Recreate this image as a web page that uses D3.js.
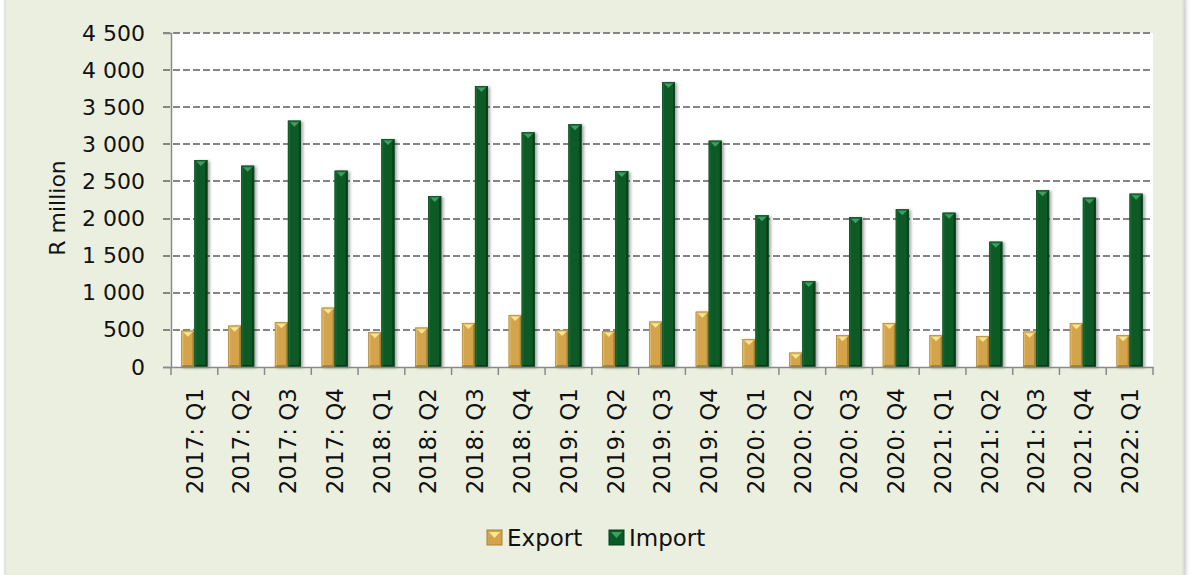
<!DOCTYPE html>
<html>
<head>
<meta charset="utf-8">
<script src="https://cdn.jsdelivr.net/npm/d3@7"></script>
<style>
  body { margin: 0; background: #ffffff; }
  svg { display: block; font-family: "DejaVu Sans", sans-serif; }
</style>
</head>
<body>
<div id="chart"></div>
<script>
// quarters on the x axis
let categories = ["2017: Q1", "2017: Q2", "2017: Q3", "2017: Q4",
    "2018: Q1", "2018: Q2", "2018: Q3", "2018: Q4",
    "2019: Q1", "2019: Q2", "2019: Q3", "2019: Q4",
    "2020: Q1", "2020: Q2", "2020: Q3", "2020: Q4",
    "2021: Q1", "2021: Q2", "2021: Q3", "2021: Q4",
    "2022: Q1"];

let seriesNames = ["Export", "Import"];

// R million
let exportVals = [489, 557, 602, 799, 467, 530, 593, 701, 499, 485, 611, 745, 377, 193, 427, 593, 427, 418, 476, 588, 427];
let importVals = [2789, 2712, 3319, 2645, 3072, 2304, 3786, 3162, 3270, 2641, 3840, 3049, 2044, 1159, 2017, 2125, 2079, 1688, 2380, 2281, 2335];

let yTicks = [0, 500, 1000, 1500, 2000, 2500, 3000, 3500, 4000, 4500];

let W = 1197, H = 575;
let plot = { left: 171, right: 1153, top: 33, bottom: 367 };

// colours: main, top highlight, left face, right/bottom face
let palette = {
    Export: { main: "#d3a44c", hi: "#f8e690", light: "#dfb862", dark: "#a98133", line: "#9a7a3a" },
    Import: { main: "#0a5a26", hi: "#3f9d63", light: "#13692f", dark: "#053e18", line: "#1f4d2c" }
};

let svg = d3.select("#chart").append("svg")
    .attr("width", W)
    .attr("height", H);

let defs = svg.append("defs");
let f = defs.append("filter").attr("id", "shadow")
    .attr("x", "-30%").attr("y", "-10%").attr("width", "180%").attr("height", "130%");
f.append("feDropShadow")
    .attr("dx", 2).attr("dy", 1).attr("stdDeviation", 1.5)
    .attr("flood-color", "#000").attr("flood-opacity", 0.35);

let cardShadow = defs.append("filter").attr("id", "cardShadow")
    .attr("x", "-5%").attr("y", "-5%").attr("width", "110%").attr("height", "110%");
cardShadow.append("feDropShadow")
    .attr("dx", 2).attr("dy", 0).attr("stdDeviation", 2)
    .attr("flood-color", "#000").attr("flood-opacity", 0.25);

// chart card
svg.append("rect")
    .attr("x", 5).attr("y", -2)
    .attr("width", 1178).attr("height", H + 4)
    .attr("fill", "#ebefdf")
    .attr("stroke", "#d9dccd")
    .attr("filter", "url(#cardShadow)");

// plot area
svg.append("rect")
    .attr("x", plot.left).attr("y", plot.top)
    .attr("width", plot.right - plot.left)
    .attr("height", plot.bottom - plot.top)
    .attr("fill", "#ffffff");

let x0 = d3.scaleBand().domain(categories).range([plot.left, plot.right]).padding(0);
let x1 = d3.scaleBand().domain(seriesNames).range([0, 26]).padding(0);
let y = d3.scaleLinear().domain([0, 4500]).range([plot.bottom, plot.top]);

// gridlines
svg.append("g").selectAll("line")
    .data(yTicks.filter(d => d > 0))
    .enter().append("line")
    .attr("x1", plot.left - 8)
    .attr("x2", plot.right)
    .attr("y1", d => Math.round(y(d)))
    .attr("y2", d => Math.round(y(d)))
    .attr("stroke", "#858585")
    .attr("stroke-width", 2)
    .attr("stroke-dasharray", "7,3");

// y axis
let yAxis = svg.append("g")
    .attr("transform", "translate(" + plot.left + ",0)")
    .call(d3.axisLeft(y).tickValues(yTicks).tickSize(8).tickPadding(18)
        .tickFormat(d => d3.format(",")(d).replace(/,/g, " ")));
yAxis.select(".domain").attr("stroke", "#8a8a8a").attr("stroke-width", 1.5);
yAxis.selectAll(".tick line").attr("stroke", d => d === 0 ? "#8a8a8a" : "none").attr("stroke-width", 1.5);
yAxis.selectAll(".tick text")
    .attr("fill", "#111")
    .style("font-size", "22px")
    .style("font-family", "DejaVu Sans, sans-serif");

svg.append("text")
    .attr("transform", "translate(65," + ((plot.top + plot.bottom) / 2 + 8) + ")rotate(-90)")
    .attr("text-anchor", "middle")
    .attr("fill", "#111")
    .style("font-size", "22px")
    .text("R million");

// bars
let rows = [];
categories.forEach((c, i) => {
    rows.push({ cat: c, s: "Export", v: exportVals[i] });
    rows.push({ cat: c, s: "Import", v: importVals[i] });
});

let barW = x1.bandwidth();
let off = (x0.bandwidth() - 26) / 2;

let bars = svg.append("g").selectAll("g.bar")
    .data(rows)
    .enter().append("g")
    .attr("class", "bar")
    .attr("filter", "url(#shadow)");

bars.each(function (d) {
    let g = d3.select(this);
    let c = palette[d.s];
    let bx = x0(d.cat) + off + x1(d.s);
    let by = y(d.v);
    let bh = y(0) - by;
    let b = 2;
    g.append("rect").attr("x", bx).attr("y", by).attr("width", barW).attr("height", bh)
        .attr("fill", c.main);
    // left face
    g.append("polygon").attr("points", [[bx, by], [bx + b, by + b], [bx + b, by + bh - b], [bx, by + bh]].join(" "))
        .attr("fill", c.light);
    // right face
    g.append("polygon").attr("points", [[bx + barW, by], [bx + barW - b, by + b], [bx + barW - b, by + bh - b], [bx + barW, by + bh]].join(" "))
        .attr("fill", c.dark);
    // bottom face
    g.append("polygon").attr("points", [[bx, by + bh], [bx + b, by + bh - b], [bx + barW - b, by + bh - b], [bx + barW, by + bh]].join(" "))
        .attr("fill", c.dark);
    // top face
    g.append("polygon").attr("points", [[bx, by], [bx + barW, by], [bx + barW - b, by + b], [bx + b, by + b]].join(" "))
        .attr("fill", c.light);
    // highlight triangle at top
    g.append("polygon").attr("points", [[bx + 2, by + 1.5], [bx + barW - 2, by + 1.5], [bx + barW / 2, by + 6]].join(" "))
        .attr("fill", c.hi);
    g.append("rect").attr("x", bx + 0.25).attr("y", by + 0.25).attr("width", barW - 0.5).attr("height", bh - 0.5)
        .attr("fill", "none").attr("stroke", c.line).attr("stroke-width", 0.5);
});

// x axis
let xAxis = svg.append("g")
    .attr("transform", "translate(0," + plot.bottom + ")")
    .call(d3.axisBottom(x0).tickSize(0).tickFormat(""));
xAxis.select(".domain").attr("stroke", "#8a8a8a").attr("stroke-width", 1.5);

let bounds = categories.map(c => x0(c)).concat([plot.right]);
svg.append("g").selectAll("line")
    .data(bounds)
    .enter().append("line")
    .attr("x1", d => d).attr("x2", d => d)
    .attr("y1", plot.bottom).attr("y2", plot.bottom + 8)
    .attr("stroke", "#8a8a8a").attr("stroke-width", 1.5);

svg.append("g").selectAll("text")
    .data(categories)
    .enter().append("text")
    .attr("transform", d => "translate(" + (x0(d) + x0.bandwidth() / 2) + "," + 388 + ")rotate(-90)")
    .attr("text-anchor", "end")
    .attr("dy", "0.36em")
    .attr("fill", "#111")
    .style("font-size", "23px")
    .text(d => d);

// legend
let legend = svg.append("g");
let legendItems = [
    { name: "Export", x: 487 },
    { name: "Import", x: 609 }
];
legendItems.forEach(it => {
    let c = palette[it.name];
    let lx = it.x, ly = 530, s = 15;
    legend.append("rect").attr("x", lx).attr("y", ly).attr("width", s).attr("height", s).attr("fill", c.main)
        .attr("stroke", c.dark).attr("stroke-width", 1);
    legend.append("polygon").attr("points", [[lx + 2, ly + 2], [lx + s - 2, ly + 2], [lx + s / 2, ly + 8]].join(" "))
        .attr("fill", c.hi);
    legend.append("text")
        .attr("x", lx + s + 5).attr("y", ly + s + 1)
        .attr("fill", "#111")
        .style("font-size", "23px")
        .text(it.name);
});
</script>
</body>
</html>
